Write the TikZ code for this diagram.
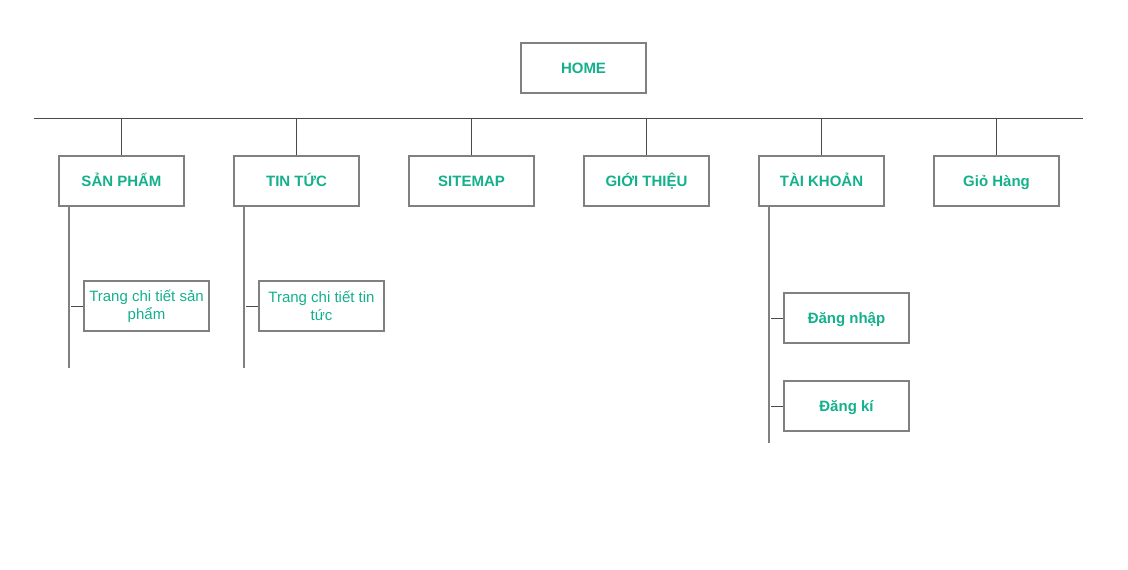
\documentclass[tikz,border=0pt]{standalone}
\usepackage{fontspec}
\setmainfont{Liberation Sans}
\definecolor{boxgray}{HTML}{808080}
\definecolor{linegray}{HTML}{4A4A4A}
\definecolor{tealtxt}{HTML}{14B08C}
\begin{document}
\begin{tikzpicture}[x=1pt,y=-1pt,
  box/.style={draw=boxgray, line width=1.6pt, minimum width=125pt, minimum height=50pt, inner sep=0pt, text=tealtxt, font=\bfseries\fontsize{15}{17}\selectfont, text height=10.7pt, text depth=0pt},
  subbox/.style={draw=boxgray, line width=1.6pt, minimum width=125pt, minimum height=50pt, inner sep=0pt, text=tealtxt, font=\fontsize{15}{18}\selectfont, align=center},
  conn/.style={draw=linegray, line width=1pt}]
\useasboundingbox (0,0) rectangle (1128,570);
\node[box] (home) at (583.5,68) {HOME};
\node[box] (sp) at (121.5,181) {SẢN PHẨM};
\node[box] (tt) at (296.5,181) {TIN TỨC};
\node[box] (sm) at (471.5,181) {SITEMAP};
\node[box] (gt) at (646.5,181) {GIỚI THIỆU};
\node[box] (tk) at (821.5,181) {TÀI KHOẢN};
\node[box] (gh) at (996.5,181) {Giỏ Hàng};
\node[subbox] (ctsp) at (146.5,306) {Trang chi tiết sản\\phẩm};
\node[subbox] (cttt) at (321.5,306) {Trang chi tiết tin\\tức};
\node[box] (dn) at (846.5,318) {Đăng nhập};
\node[box] (dk) at (846.5,406) {Đăng kí};
\coordinate (hl) at (34,118);
\coordinate (hr) at (1083,118);
\draw[conn] (hl) -- (hr);
\foreach \n in {sp,tt,sm,gt,tk,gh} \draw[conn] (\n.north) -- (\n.north |- hl);
\coordinate (spend) at (69,368);
\coordinate (ttend) at (244,368);
\coordinate (tkend) at (769,443);
\draw[conn, draw=boxgray, line width=1.4pt] (sp.south -| spend) -- (spend);
\draw[conn, draw=boxgray, line width=1.4pt] (tt.south -| ttend) -- (ttend);
\draw[conn, draw=boxgray, line width=1.4pt] (tk.south -| tkend) -- (tkend);
\foreach \n in {ctsp,cttt,dn,dk} \draw[conn] ([xshift=-12pt]\n.west) -- (\n.west);
\end{tikzpicture}
\end{document}
